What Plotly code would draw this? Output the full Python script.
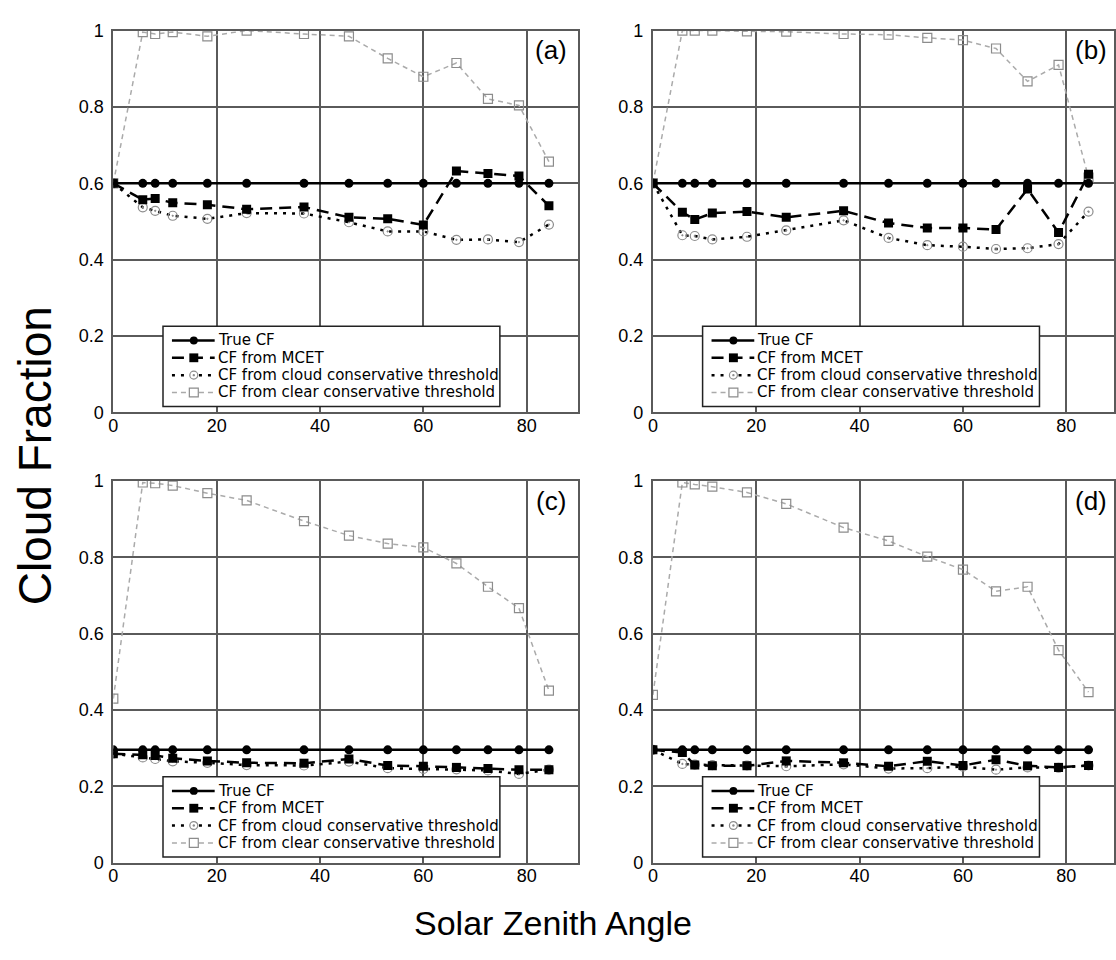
import plotly.graph_objects as go

sza = [0, 5.7, 8.1, 11.5, 18.2, 25.8, 36.9, 45.6, 53.1, 60, 66.4, 72.5, 78.5, 84.3]

true_a = [0.6] * 14
mcet_a = [0.6, 0.557, 0.560, 0.549, 0.544, 0.532, 0.538, 0.511, 0.507, 0.491, 0.632, 0.626, 0.619, 0.541]
cloud_a = [0.6, 0.537, 0.528, 0.515, 0.507, 0.522, 0.521, 0.498, 0.474, 0.474, 0.452, 0.453, 0.446, 0.492]
clear_a = [0.6, 0.996, 0.991, 0.996, 0.985, 1.0, 0.991, 0.985, 0.927, 0.879, 0.915, 0.821, 0.804, 0.657]

true_b = [0.6] * 14
mcet_b = [0.6, 0.524, 0.505, 0.522, 0.526, 0.511, 0.528, 0.496, 0.483, 0.483, 0.479, 0.585, 0.471, 0.624]
cloud_b = [0.6, 0.464, 0.462, 0.453, 0.460, 0.477, 0.503, 0.457, 0.438, 0.434, 0.428, 0.430, 0.441, 0.526]
clear_b = [0.6, 1.0, 1.0, 1.0, 0.998, 0.997, 0.991, 0.989, 0.981, 0.975, 0.953, 0.867, 0.910, 0.615]

true_c = [0.296] * 14
mcet_c = [0.286, 0.283, 0.281, 0.274, 0.267, 0.262, 0.261, 0.272, 0.255, 0.253, 0.250, 0.247, 0.244, 0.244]
cloud_c = [0.286, 0.276, 0.272, 0.266, 0.262, 0.256, 0.255, 0.265, 0.248, 0.246, 0.245, 0.242, 0.233, 0.244]
clear_c = [0.430, 0.996, 0.994, 0.988, 0.968, 0.949, 0.895, 0.857, 0.836, 0.826, 0.784, 0.723, 0.667, 0.451]

true_d = [0.296] * 14
mcet_d = [0.296, 0.289, 0.256, 0.254, 0.254, 0.267, 0.262, 0.253, 0.266, 0.255, 0.270, 0.254, 0.250, 0.255]
cloud_d = [0.296, 0.259, 0.257, 0.256, 0.255, 0.253, 0.258, 0.247, 0.248, 0.252, 0.244, 0.250, 0.249, 0.255]
clear_d = [0.440, 0.996, 0.991, 0.985, 0.970, 0.940, 0.878, 0.843, 0.802, 0.768, 0.711, 0.723, 0.557, 0.447]

series_names = ["True CF", "CF from MCET", "CF from cloud conservative threshold",
                "CF from clear conservative threshold"]
panel_labels = ["(a)", "(b)", "(c)", "(d)"]
x_ticks = [0, 20, 40, 60, 80]
y_ticks = [0, 0.2, 0.4, 0.6, 0.8, 1]

panels = [
    (true_a, mcet_a, cloud_a, clear_a),
    (true_b, mcet_b, cloud_b, clear_b),
    (true_c, mcet_c, cloud_c, clear_c),
    (true_d, mcet_d, cloud_d, clear_d),
]

FONT = "Liberation Sans, Arial, sans-serif"
LEG_FONT = "DejaVu Sans, Liberation Sans, sans-serif"
W, H = 1116, 960
GRID = "#5a5a5a"
GRAY_MK = "#8c8c8c"
GRAY_LN = "#aaaaaa"

# pixel geometry of the four plot areas (left, top, right, bottom)
boxes = [(109, 21, 577, 411), (652, 21, W, 411),
         (109, 481, 577, 871), (652, 481, W, 871)]
PX_PER_UNIT = 5.2

line_dash = ["solid", "12px,7px", "3px,6px", "5px,4px"]
styles = [
    dict(line=dict(color="black", width=2.5, dash=line_dash[0]),
         marker=dict(symbol="circle", size=9, color="black")),
    dict(line=dict(color="black", width=2.5, dash=line_dash[1]),
         marker=dict(symbol="square", size=9, color="black")),
    dict(line=dict(color="black", width=2.5, dash=line_dash[2]),
         marker=dict(symbol="circle-open-dot", size=9, color=GRAY_MK,
                     line=dict(width=1.2, color=GRAY_MK))),
    dict(line=dict(color=GRAY_LN, width=1.5, dash=line_dash[3]),
         marker=dict(symbol="square-open", size=9, color=GRAY_MK,
                     line=dict(width=1.2, color=GRAY_MK))),
]

fig = go.Figure()
layout = dict(width=W, height=H, margin=dict(l=0, r=0, t=0, b=0),
              paper_bgcolor="white", plot_bgcolor="white", showlegend=False,
              font=dict(family=FONT, color="black"), annotations=[], shapes=[])


def px(x):
    return x / W


def py(y):
    return 1 - y / H


for i, data in enumerate(panels):
    n = i + 1
    xa = "x" if n == 1 else f"x{n}"
    ya = "y" if n == 1 else f"y{n}"
    for k in [3, 2, 1, 0]:
        fig.add_trace(go.Scatter(x=sza, y=data[k], mode="lines+markers",
                                 name=series_names[k], xaxis=xa, yaxis=ya,
                                 showlegend=False, **styles[k]))
    L, T, R, B = boxes[i]
    axcommon = dict(showgrid=True, gridcolor=GRID, gridwidth=2, showline=True,
                    linecolor=GRID, linewidth=2, mirror=True, zeroline=False,
                    ticks="", ticklen=0,
                    tickfont=dict(size=18, family=FONT, color="black"))
    layout["xaxis" if n == 1 else f"xaxis{n}"] = dict(
        domain=[px(L), px(R)], range=[0, (R - L) / PX_PER_UNIT], tickvals=x_ticks,
        anchor=ya, ticklabelstandoff=-4, **axcommon)
    layout["yaxis" if n == 1 else f"yaxis{n}"] = dict(
        domain=[py(B), py(T)], range=[0, 1], tickvals=y_ticks,
        anchor=xa, ticklabelstandoff=4, **axcommon)

    # panel label
    lx = 549 if i % 2 == 0 else 1093
    layout["annotations"].append(dict(
        text=panel_labels[i], xref="paper", yref="paper",
        x=px(lx), y=py(T + 20), xanchor="center", yanchor="middle",
        showarrow=False, font=dict(size=26, family=FONT, color="black")))

    # manual legend (box, samples, labels)
    bx = L + 50
    by = T + 302
    bw, bh = 339, 82
    layout["shapes"].append(dict(
        type="rect", xref="paper", yref="paper", layer="above",
        x0=px(bx), x1=px(bx + bw), y0=py(by + bh), y1=py(by),
        fillcolor="white", line=dict(color="#222222", width=1.5)))
    for k in range(4):
        cy = by + 14.5 + k * 17.7
        st = styles[k]
        layout["shapes"].append(dict(
            type="line", xref="paper", yref="paper", layer="above",
            x0=px(bx + 9), x1=px(bx + 52), y0=py(cy), y1=py(cy),
            line=dict(color=st["line"]["color"], width=st["line"]["width"],
                      dash=line_dash[k] if k != 0 else "solid")))
        cx = bx + 31
        if k == 0:
            r = 4
            layout["shapes"].append(dict(
                type="circle", xref="paper", yref="paper", layer="above",
                x0=px(cx - r), x1=px(cx + r), y0=py(cy + r), y1=py(cy - r),
                fillcolor="black", line=dict(color="black", width=0)))
        elif k == 1:
            r = 4.5
            layout["shapes"].append(dict(
                type="rect", xref="paper", yref="paper", layer="above",
                x0=px(cx - r), x1=px(cx + r), y0=py(cy + r), y1=py(cy - r),
                fillcolor="black", line=dict(color="black", width=0)))
        elif k == 2:
            r = 4
            layout["shapes"].append(dict(
                type="circle", xref="paper", yref="paper", layer="above",
                x0=px(cx - r), x1=px(cx + r), y0=py(cy + r), y1=py(cy - r),
                fillcolor="white", line=dict(color=GRAY_MK, width=1.2)))
            layout["shapes"].append(dict(
                type="circle", xref="paper", yref="paper", layer="above",
                x0=px(cx - 1.2), x1=px(cx + 1.2), y0=py(cy + 1.2), y1=py(cy - 1.2),
                fillcolor=GRAY_MK, line=dict(color=GRAY_MK, width=0)))
        else:
            r = 4.5
            layout["shapes"].append(dict(
                type="rect", xref="paper", yref="paper", layer="above",
                x0=px(cx - r), x1=px(cx + r), y0=py(cy + r), y1=py(cy - r),
                fillcolor="white", line=dict(color=GRAY_MK, width=1.2)))
        layout["annotations"].append(dict(
            text=series_names[k], xref="paper", yref="paper",
            x=px(bx + 54), y=py(cy), xanchor="left", yanchor="middle",
            borderpad=0, showarrow=False,
            font=dict(size=15, family=LEG_FONT, color="black")))

layout["annotations"].append(dict(
    text="Cloud Fraction", xref="paper", yref="paper", x=px(30), y=py(455),
    xanchor="center", yanchor="middle", textangle=-90, showarrow=False,
    font=dict(size=46, family=FONT, color="black")))
layout["annotations"].append(dict(
    text="Solar Zenith Angle", xref="paper", yref="paper", x=px(551), y=py(932),
    xanchor="center", yanchor="middle", showarrow=False,
    font=dict(size=34, family=FONT, color="black")))

fig.update_layout(**layout)
fig.write_html("out.html")
